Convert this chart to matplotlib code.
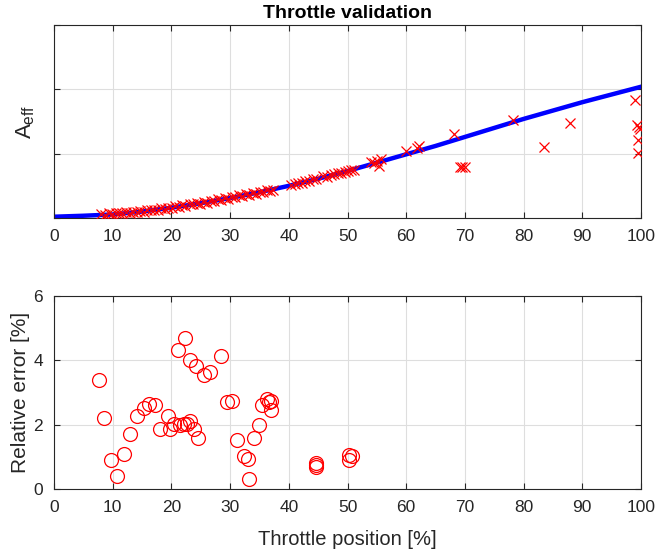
import matplotlib
matplotlib.use("Agg")
import matplotlib.pyplot as plt

plt.rcParams['font.family'] = ['Liberation Sans', 'DejaVu Sans']
plt.rcParams['mathtext.fontset'] = 'custom'
plt.rcParams['mathtext.rm'] = 'Liberation Sans'
plt.rcParams['mathtext.it'] = 'Liberation Sans'

# ---- model curve (top) ----
curve_x = [0, 5, 10, 15, 20, 25, 30, 35, 40, 45, 50, 55, 60, 65, 70, 75, 80, 85, 90, 95, 100]
curve_y = [0.02, 0.035, 0.055, 0.10, 0.16, 0.23, 0.31, 0.40, 0.50, 0.61, 0.73, 0.86, 0.99,
           1.12, 1.26, 1.40, 1.54, 1.67, 1.80, 1.92, 2.04]

# ---- measured points (top) ----
meas_x = [8.0, 8.7, 9.3, 9.9, 10.5, 11.1, 11.6, 12.3, 12.9, 13.4, 14.1, 14.6, 15.3, 15.8,
          16.5, 17.0, 17.7, 18.2, 18.9, 19.4, 20.1, 20.6, 21.3, 21.8, 22.4, 23.1, 23.6, 24.3,
          24.8, 25.5, 26.0, 26.7, 27.2, 27.9, 28.4, 29.1, 29.6, 30.3, 30.8, 31.5, 32.0, 32.7,
          33.2, 33.9, 34.4, 35.1, 35.6, 36.3, 36.8, 37.3, 40.4, 41.1, 41.6, 42.3, 42.8, 43.5,
          44.1, 44.7, 45.9, 46.5, 47.2, 47.7, 48.4, 48.9, 49.5, 50.1, 50.6, 51.1,
          54.0, 54.5, 55.1, 55.4, 55.7, 59.9, 61.8, 62.1, 68.1, 69.1, 69.5, 70.1,
          78.2, 83.5, 87.9, 98.9, 99.4, 99.7, 99.9, 99.5, 99.5]
meas_y = [0.06, 0.05, 0.07, 0.06, 0.07, 0.08, 0.07, 0.09, 0.08, 0.10, 0.09, 0.11, 0.10, 0.12,
          0.12, 0.13, 0.13, 0.15, 0.14, 0.16, 0.16, 0.18, 0.17, 0.20, 0.19, 0.21, 0.21, 0.23,
          0.22, 0.25, 0.24, 0.27, 0.26, 0.29, 0.28, 0.31, 0.30, 0.33, 0.32, 0.35, 0.34, 0.37,
          0.36, 0.39, 0.38, 0.41, 0.40, 0.43, 0.42, 0.44, 0.52, 0.53, 0.55, 0.55, 0.58, 0.58,
          0.60, 0.61, 0.65, 0.64, 0.67, 0.68, 0.70, 0.70, 0.72, 0.73, 0.75, 0.74,
          0.87, 0.86, 0.88, 0.81, 0.92, 1.04, 1.09, 1.12, 1.30, 0.80, 0.80, 0.80,
          1.52, 1.11, 1.48, 1.84, 1.45, 1.41, 1.38, 1.21, 1.01]

# ---- relative error (bottom) ----
err_x = [7.6, 8.6, 9.7, 10.8, 11.9, 13.0, 14.2, 15.4, 16.2, 17.2, 18.0, 19.4, 19.7, 20.4,
         21.1, 21.4, 22.1, 22.3, 22.6, 23.1, 23.1, 23.9, 24.2, 24.6, 25.5, 26.5, 28.5, 29.4,
         30.3, 31.2, 32.4, 33.1, 33.3, 34.0, 34.9, 35.4, 36.3, 36.7, 37.0, 37.0,
         44.6, 44.7, 44.7, 50.2, 50.3, 50.7]
err_y = [3.39, 2.20, 0.90, 0.41, 1.10, 1.72, 2.26, 2.52, 2.63, 2.62, 1.88, 2.26, 1.86, 2.01,
         4.33, 2.00, 2.01, 4.70, 2.03, 2.11, 4.01, 1.88, 3.81, 1.60, 3.55, 3.65, 4.14, 2.72,
         2.75, 1.53, 1.03, 0.94, 0.32, 1.57, 2.00, 2.60, 2.80, 2.72, 2.73, 2.46,
         0.82, 0.75, 0.69, 0.90, 1.06, 1.04]

x_ticks = [0, 10, 20, 30, 40, 50, 60, 70, 80, 90, 100]

fig = plt.figure(figsize=(6.56, 5.49), dpi=100)
ax1 = fig.add_axes([54/656, 1-218/549, 587/656, 193/549])
ax2 = fig.add_axes([54/656, 1-489/549, 587/656, 193/549])

spine_col = '#262626'
for ax in (ax1, ax2):
    ax.set_xlim(0, 100)
    ax.set_xticks(x_ticks)
    ax.grid(True, color='#dedede', linewidth=0.8)
    ax.set_axisbelow(True)
    for s in ax.spines.values():
        s.set_color(spine_col)
        s.set_linewidth(0.8)
    ax.tick_params(direction='in', length=4, width=0.8, colors=spine_col, pad=8,
                   labelsize=12.5, top=True, right=True, labelcolor='#262626')

ax1.plot(curve_x, curve_y, color='#0000ff', linewidth=3.2, zorder=2)
ax1.plot(meas_x, meas_y, 'x', color='#ff0000', markersize=6.5, markeredgewidth=0.9, zorder=3)
ax1.set_ylim(0, 3)
ax1.set_yticks([0, 1, 2, 3])
ax1.set_yticklabels([])
ax1.set_ylabel(r'$A_{eff}$', fontsize=16, color='#262626', labelpad=4)
ax1.set_title('Throttle validation', fontsize=14, fontweight='bold', pad=5)

ax2.plot(err_x, err_y, 'o', markerfacecolor='none', markeredgecolor='#ff0000',
         markersize=10, markeredgewidth=0.9)
ax2.set_ylim(0, 6)
ax2.set_yticks([0, 2, 4, 6])
ax2.set_ylabel('Relative error [%]', fontsize=15, color='#262626', labelpad=2)
ax2.set_xlabel('Throttle position [%]', fontsize=14.5, color='#262626', labelpad=11)

fig.savefig('out.png', dpi=100)
